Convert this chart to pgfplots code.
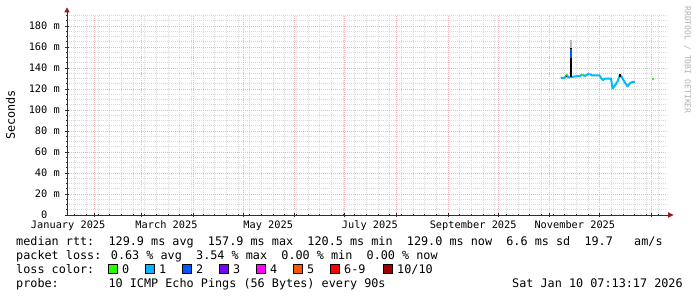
\documentclass[border=0pt]{standalone}
\usepackage{pgfplots}
\pgfplotsset{compat=1.18}
\usepackage{fontspec}
\setmainfont{DejaVu Sans Mono}
\setmonofont{DejaVu Sans Mono}
\newfontfamily\rrdfont{DejaVu Sans Mono}
\newcommand\axisfont{\rrdfont\fontsize{10.3bp}{12bp}\selectfont}
\newcommand\legfont{\rrdfont\fontsize{11.8bp}{14bp}\selectfont}
\newcommand\wmfont{\rrdfont\fontsize{8.1bp}{9bp}\selectfont}
\definecolor{lcA}{HTML}{26FF00}
\definecolor{lcB}{HTML}{00B8FF}
\definecolor{lcC}{HTML}{0059FF}
\definecolor{lcD}{HTML}{7E00FF}
\definecolor{lcE}{HTML}{FF00FF}
\definecolor{lcF}{HTML}{FF5500}
\definecolor{lcG}{HTML}{FF0000}
\definecolor{lcH}{HTML}{A10000}
\definecolor{gridc}{HTML}{D8D8D8}
\definecolor{mgridc}{HTML}{F2B4B4}
\definecolor{axisc}{HTML}{303030}
\definecolor{arrowc}{HTML}{9A1A1A}
\definecolor{wmc}{HTML}{B0B0B0}
\definecolor{smoke}{HTML}{B8B8B8}

\pgfplotstableread{
d ms
310.5 130.8
311.9 130.5
313.1 131.0
314.1 133.5
315.2 131.0
315.9 131.2
316.9 131.3
317.3 131.5
319.1 132.0
322.1 132.5
323.3 133.5
325.1 132.5
327.5 134.5
329.3 133.0
333.8 133.0
334.7 130.5
335.9 128.5
337.1 130.0
340.7 130.0
341.6 120.6
343.1 123.5
344.6 127.0
346.1 133.5
347.3 131.0
349.1 126.0
350.6 122.5
352.1 125.5
353.3 126.5
355.1 126.5
}\median

\begin{document}
\begin{tikzpicture}[x=1bp,y=1bp]
\useasboundingbox (0,0) rectangle (697,297);
\begin{axis}[
  at={(67bp,82bp)}, anchor=south west,
  scale only axis, width=600bp, height=200bp,
  xmin=14.3, xmax=374.3, ymin=0, ymax=190.5,
  axis line style={draw=none},
  xtick pos=bottom, ytick pos=left,
  tick align=center,
  major tick length=4bp, minor tick length=2bp,
  tick style={color=axisc, line width=0.8bp},
  xtick={31,59,90,120,151,181,212,243,273,304,334,365},
  xticklabels={},
  minor xtick={19,26,...,372},
  extra x ticks={15,74,135,196,258,319},
  extra x tick labels={January 2025,March 2025,May 2025,July 2025,September 2025,November 2025},
  extra x tick style={grid=none, major tick length=0pt,
     xticklabel style={anchor=base, inner sep=0pt, yshift=-13bp}},
  ytick={0,20,...,180},
  yticklabels={{0\phantom{ m}},20 m,40 m,60 m,80 m,100 m,120 m,140 m,160 m,180 m},
  minor ytick={5,10,...,190},
  yticklabel style={anchor=east, inner sep=0pt, xshift=-5bp},
  tick label style={font=\axisfont},
  grid=both,
  major grid style={color=mgridc, line width=0.7bp, dash pattern=on 1bp off 1bp},
  minor grid style={color=gridc, line width=0.7bp, dash pattern=on 1bp off 1bp},
]
% smoke around spike
\addplot[smoke, line width=2bp, forget plot] coordinates {(316.4,157) (316.4,167)};
% median line (loss 1 colour)
\addplot[lcB, line width=2bp, line join=round] table[x=d,y=ms] {\median};
% spike
\addplot[black, line width=2bp] coordinates {(316.4,131) (316.4,159)};
\addplot[lcC, line width=2bp] coordinates {(316.4,150) (316.4,158)};
\addplot[black, line width=1.2bp] coordinates {(314.0,131) (314.0,134.5)};
\addplot[black, line width=1.2bp] coordinates {(346.1,131) (346.1,134.5)};
% green (no loss) pieces
\addplot[lcA, line width=2bp] coordinates {(313.8,133.3) (314.4,133.5)};
\addplot[lcA, line width=2bp] coordinates {(323.0,133.5) (323.6,133.5)};
\addplot[lcA, line width=2bp] coordinates {(327.2,134.5) (327.8,134.5)};
\addplot[lcA, line width=2bp] coordinates {(344.2,126.5) (345.0,127.5)};
\addplot[lcA, line width=2bp] coordinates {(350.2,122.8) (351.0,122.8)};
\addplot[lcA, line width=2.4bp] coordinates {(365.3,129.5) (366.6,129.5)};
\end{axis}
% axis lines with arrows
\draw[axisc, line width=0.9bp] (67,82) -- (67,285);
\fill[arrowc] (64.2,284.5) -- (69.8,284.5) -- (67,289.5) -- cycle;
\draw[axisc, line width=0.9bp] (66,82) -- (668.5,82);
\fill[arrowc] (668,79.2) -- (668,84.8) -- (673.5,82) -- cycle;
% unit label
\node[rotate=90, anchor=center, inner sep=0pt, font=\legfont] at (10.5,182) {Seconds};
% watermark
\node[rotate=-90, anchor=center, inner sep=0pt, font=\wmfont, text=wmc] at (687.5,237) {RRDTOOL / TOBI OETIKER};
% legend lines
\node[anchor=base west, inner sep=0pt, font=\legfont] at (16,52) {median rtt:~~129.9 ms avg~~157.9 ms max~~120.5 ms min~~129.0 ms now~~6.6 ms sd~~19.7~~~am/s};
\node[anchor=base west, inner sep=0pt, font=\legfont] at (16,38) {packet loss: 0.63 \% avg~~3.54 \% max~~0.00 \% min~~0.00 \% now};
\node[anchor=base west, inner sep=0pt, font=\legfont] at (16,24) {loss color:};
\foreach \bx/\col/\lab in {108/lcA/0,145/lcB/1,182/lcC/2,219/lcD/3,256/lcE/4,293/lcF/5,330/lcG/6-9,383/lcH/{10/10}}{
  \filldraw[fill=\col, draw=black, line width=0.9bp] (\bx,24) rectangle ++(9,9);
  \node[anchor=base west, inner sep=0pt, font=\legfont] at (\bx+14,24) {\lab};
}
\node[anchor=base west, inner sep=0pt, font=\legfont] at (16,10) {probe:~~~~~~~10 ICMP Echo Pings (56 Bytes) every 90s};
\node[anchor=base west, inner sep=0pt, font=\legfont] at (512,10) {Sat Jan 10 07:13:17 2026};
\end{tikzpicture}
\end{document}
